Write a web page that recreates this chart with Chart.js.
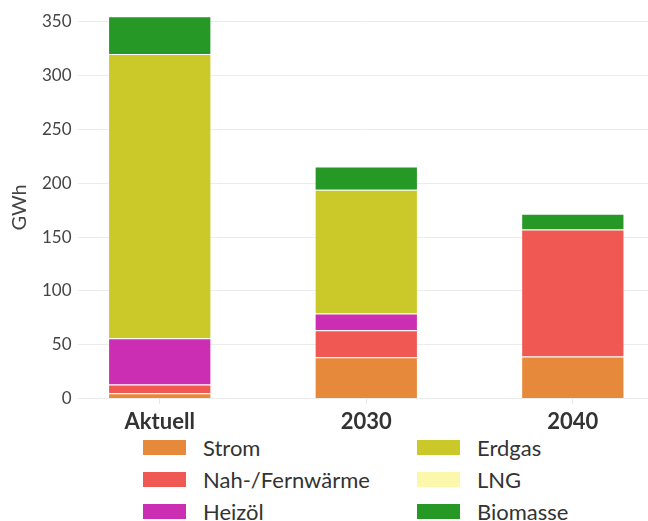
<!DOCTYPE html>
<html>
<head>
<meta charset="utf-8">
<script src="https://cdn.jsdelivr.net/npm/chart.js@4/dist/chart.umd.min.js"></script>
<style>
  html, body { margin: 0; padding: 0; background: #fff; }
  body { width: 648px; height: 521px; overflow: hidden; font-family: "Lato", "Open Sans", sans-serif; }
  #wrap { position: relative; width: 648px; height: 440px; }
  #legend {
    display: grid;
    grid-template-columns: 274px 200px;
    grid-template-rows: 32px 32px 32px;
    grid-auto-flow: column;
    padding-left: 143px;
    margin-top: -9px;
  }
  .item { display: flex; align-items: center; font-size: 22px; color: #333; }
  .box { width: 43px; height: 15px; margin-right: 17px; }
</style>
</head>
<body>
<div id="wrap"><canvas id="chart"></canvas></div>
<div id="legend"></div>
<script>
const categories = ['Aktuell', '2030', '2040'];
const strom = [5, 38.5, 39];
const fernwaerme = [8, 25, 118];
const heizoel = [43, 15.5, 0];
const erdgas = [264, 115, 0];
const lng = [0, 0, 0];
const biomasse = [35, 21.5, 14.5];

const yTicks = [0, 50, 100, 150, 200, 250, 300, 350];

const series = [
  { label: 'Strom', values: strom, color: '#e6893a' },
  { label: 'Nah-/Fernwärme', values: fernwaerme, color: '#f05853' },
  { label: 'Heizöl', values: heizoel, color: '#cc2eb3' },
  { label: 'Erdgas', values: erdgas, color: '#cbc929' },
  { label: 'LNG', values: lng, color: '#fcf8ab' },
  { label: 'Biomasse', values: biomasse, color: '#269826' },
];

const toPoints = vals => vals.map((v, i) => ({ x: i, y: v }));

const chart = new Chart(document.getElementById('chart'), {
  type: 'bar',
  data: {
    datasets: series.map(s => ({
      label: s.label,
      data: toPoints(s.values),
      backgroundColor: s.color,
      borderColor: 'rgba(255,255,255,0.15)',
      borderWidth: 1,
      barPercentage: 0.5,
      categoryPercentage: 1.0,
    }))
  },
  options: {
    responsive: true,
    maintainAspectRatio: false,
    animation: false,
    layout: { padding: { top: 0, left: 8, right: 0, bottom: 0 } },
    plugins: {
      legend: { display: false },
      tooltip: { enabled: false }
    },
    scales: {
      x: {
        type: 'linear',
        stacked: true,
        offset: false,
        min: -0.3735,
        max: 2.364,
        afterBuildTicks: scale => {
          scale.ticks = categories.map((c, i) => ({ value: i }));
        },
        ticks: {
          callback: v => categories[v] ?? '',
          color: '#333',
          font: { family: 'Lato', size: 22, weight: 'bold' },
          padding: 5,
          maxRotation: 0,
        },
        grid: {
          offset: false,
          drawOnChartArea: false,
          drawTicks: true,
          tickLength: 5,
          color: '#e6e6e6',
        },
        border: { display: false },
      },
      y: {
        stacked: true,
        min: 0,
        max: 355,
        afterBuildTicks: scale => {
          scale.ticks = yTicks.map(v => ({ value: v }));
        },
        ticks: {
          color: '#444',
          font: { family: 'Lato', size: 17 },
          padding: 6,
        },
        grid: {
          color: '#ececec',
          tickLength: 5,
          tickColor: '#ececec',
        },
        border: { display: false },
        title: {
          display: true,
          text: 'GWh',
          color: '#444',
          font: { family: 'Lato', size: 20 },
          padding: { top: 0, bottom: 4 },
        },
      }
    }
  }
});

// legend laid out in two columns like the reference
const legend = document.getElementById('legend');
chart.data.datasets.forEach(ds => {
  const item = document.createElement('div');
  item.className = 'item';
  item.innerHTML = `<span class="box" style="background:${ds.backgroundColor}"></span>${ds.label}`;
  legend.appendChild(item);
});
</script>
</body>
</html>
